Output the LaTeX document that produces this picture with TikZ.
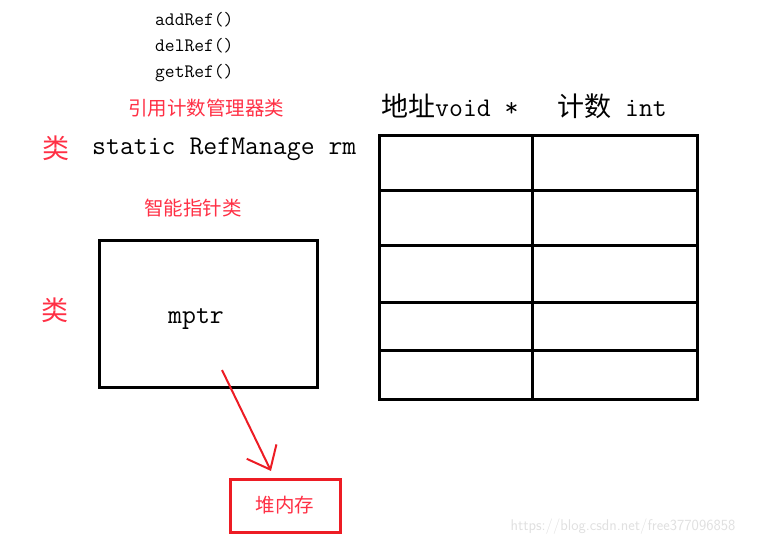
\documentclass[tikz,border=0pt]{standalone}
\usepackage{fontspec}
\usepackage{xcolor}
\usetikzlibrary{arrows.meta}
\newfontfamily\cjk{Noto Sans CJK SC}
\definecolor{penred}{HTML}{ED1C24}
\definecolor{notered}{HTML}{FF3045}

\begin{document}
\begin{tikzpicture}[x=1pt, y=-1pt,
  code/.style={anchor=west, inner sep=0pt, font=\fontsize{27}{30}\selectfont\ttfamily},
  method/.style={anchor=west, inner sep=0pt, font=\fontsize{19}{22}\selectfont\ttfamily},
  note/.style={inner sep=0pt, text=notered, font=\fontsize{19.5}{22}\selectfont\cjk},
  kind/.style={inner sep=0pt, text=notered, font=\fontsize{27}{30}\selectfont\cjk},
  objbox/.style={draw, line width=3pt, minimum width=218pt, minimum height=147pt, inner sep=0pt},
  heapbox/.style={draw=penred, line width=3pt, minimum width=110pt, minimum height=53pt,
    inner sep=0pt, text=notered, font=\fontsize{19.5}{22}\selectfont\cjk},
  ptrarrow/.style={-{Straight Barb[length=20pt, width=33pt, line width=2pt]}, penred, line width=2pt},
  cell/.style={line width=3pt},
]
\useasboundingbox (0,0) rectangle (759,546);
% manager class
\node[method] (add) at (155,20) {addRef()};
\node[method] (del) at (155,46) {delRef()};
\node[method] (get) at (155,73) {getRef()};
\node[note] (mgrnote) at (206,108) {引用计数管理器类};
\node[kind] (kind1) at (56,148) {类};
\node[code] (rm) at (92,149) {static RefManage rm};
% smart pointer class
\node[note] (ptrnote) at (193,208) {智能指针类};
\node[objbox] (obj) at (208,313.5) {};
\node[code] (mptr) at (168,319) {mptr};
\node[kind] (kind2) at (55,310) {类};
% heap
\node[heapbox] (heap) at (285,505.5) {堆内存};
\coordinate (ptr) at (222,370);
\coordinate (heaptip) at (271,471);
\draw[ptrarrow] (ptr) -- (heaptip);
% table
\node[code] (addrhead) at (381,106) {{\cjk 地址}void *};
\node[code] (cnthead) at (557,106) {{\cjk 计数} int};
\draw[cell] (379,135) rectangle (697,399);
\draw[cell] (532,135) -- (532,399);
\foreach \y in {190,245,302,350}
  \draw[cell] (379,\y) -- (697,\y);
% watermark
\node[inner sep=0pt, text=black!12, font=\fontsize{15.5}{18}\selectfont\sffamily] (mark) at (623,527) {https://blog.csdn.net/free377096858};
\end{tikzpicture}
\end{document}
